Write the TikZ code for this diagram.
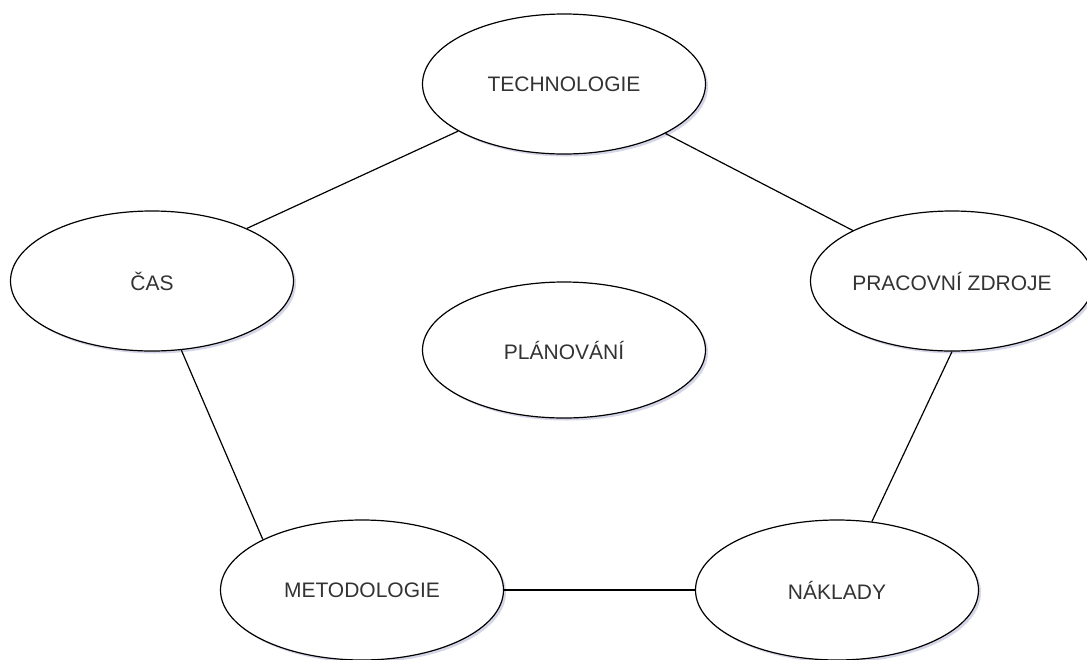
\documentclass[tikz,border=0pt]{standalone}
\usepackage{fontspec}
\setmainfont{Liberation Sans}
\usetikzlibrary{shapes.geometric,shadows}
\begin{document}
\begin{tikzpicture}[x=1pt,y=-1pt,
  topic/.style={ellipse,draw=black,line width=1.2pt,fill=white,
    minimum width=283pt,minimum height=140pt,inner sep=0pt,
    font=\fontsize{21}{24}\selectfont,text=black!80,
    drop shadow={shadow xshift=2.5pt,shadow yshift=-2.5pt,opacity=0.25,fill=blue!30!gray}},
  link/.style={draw=black,line width=1.2pt}]
\useasboundingbox (0,0) rectangle (1087,659);
\fill[white] (0,0) rectangle (1087,659);
\begin{scope}
\clip (0,0) rectangle (1087,659);
\node[topic] (tech) at (564,84) {TECHNOLOGIE};
\node[topic] (cas) at (152,281) {ČAS};
\node[topic] (prac) at (952,281) {PRACOVNÍ ZDROJE};
\node[topic,minimum height=136pt] (plan) at (564,350) {PLÁNOVÁNÍ};
\node[topic] (metod) at (362,590) {METODOLOGIE};
\node[topic] (nakl) at (837,590) {NÁKLADY};
\draw[link] (tech.204.4) -- (cas.29.7);
\draw[link] (tech.334.6) -- (prac.153.4);
\draw[link] (cas.293.2) -- (metod.153.9);
\draw[link] (prac.270) -- (nakl.63.1);
\draw[link] (metod.east) -- (nakl.west);
\end{scope}
\end{tikzpicture}
\end{document}
